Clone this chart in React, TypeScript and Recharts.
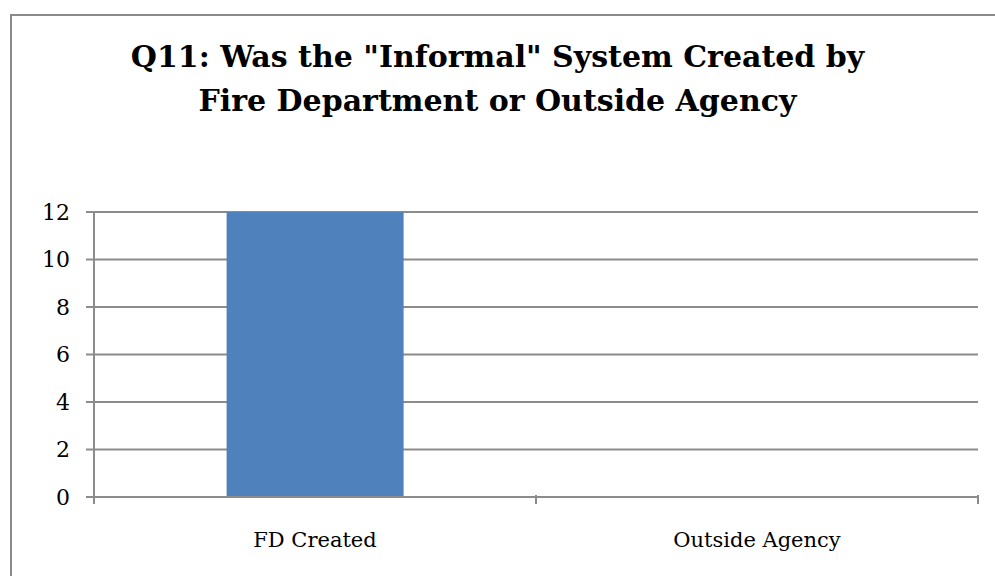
import * as React from "react";
import { Bar, BarChart, CartesianGrid, XAxis, YAxis } from "recharts";

const categories = ["FD Created", "Outside Agency"];
const counts = [12, 0];
const yTicks = [0, 2, 4, 6, 8, 10, 12];
const titleLines = ['Q11: Was the "Informal" System Created by', "Fire Department or Outside Agency"];

const data = categories.map((name, i) => ({ name, value: counts[i] }));

const W = 995;
const H = 576;
const GRID = "#8c8c8c";
const FONT = '"DejaVu Serif", "Liberation Serif", serif';

// Excel-style category tick: mark on the band boundaries, label in the middle
function CategoryTick(props: any) {
  const { x, y, payload, index, visibleTicksCount } = props;
  const half = payload?.offset ?? 0;
  const top = y - 10;
  const isLast = index === (visibleTicksCount ?? 2) - 1;
  return (
    <g>
      <line x1={x - half} x2={x - half} y1={top} y2={top + 9} stroke={GRID} strokeWidth={2} />
      {isLast && (
        <line x1={x + half} x2={x + half} y1={top} y2={top + 9} stroke={GRID} strokeWidth={2} />
      )}
      <text x={x} y={top + 52} textAnchor="middle" fill="#000" fontSize={21} fontFamily={FONT}>
        {payload.value}
      </text>
    </g>
  );
}

export default function App() {
  return (
    <div style={{ position: "fixed", left: 0, top: 0, width: W, height: H, overflow: "hidden", background: "#fff" }}>
      <div
        style={{
          position: "absolute",
          left: 10,
          top: 14,
          width: W + 20,
          height: H + 20,
          border: "2px solid #8a8a8a",
          boxSizing: "border-box",
        }}
      />
      <div
        style={{
          position: "absolute",
          left: 0,
          top: 35,
          width: W,
          textAlign: "center",
          fontFamily: FONT,
          fontWeight: 700,
          fontSize: 30,
          lineHeight: "44px",
          color: "#000",
        }}
      >
        {titleLines.map((t) => (
          <div key={t}>{t}</div>
        ))}
      </div>
      <div style={{ position: "absolute", left: 0, top: 0 }}>
        <BarChart
          width={W}
          height={H}
          data={data}
          margin={{ top: 212, right: 17, bottom: 29, left: 34 }}
          barCategoryGap="30%"
        >
          <CartesianGrid horizontal vertical={false} stroke={GRID} strokeWidth={2} />
          <XAxis
            dataKey="name"
            height={50}
            axisLine={{ stroke: GRID, strokeWidth: 2 }}
            tickLine={false}
            interval={0}
            tick={<CategoryTick />}
          />
          <YAxis
            width={60}
            domain={[0, 12]}
            ticks={yTicks}
            interval={0}
            axisLine={{ stroke: GRID, strokeWidth: 2 }}
            tickLine={{ stroke: GRID, strokeWidth: 2 }}
            tickSize={8}
            tickMargin={16}
            tick={{ fill: "#000", fontSize: 22, fontFamily: FONT }}
          />
          <Bar dataKey="value" fill="#4F81BD" isAnimationActive={false} />
        </BarChart>
      </div>
    </div>
  );
}
